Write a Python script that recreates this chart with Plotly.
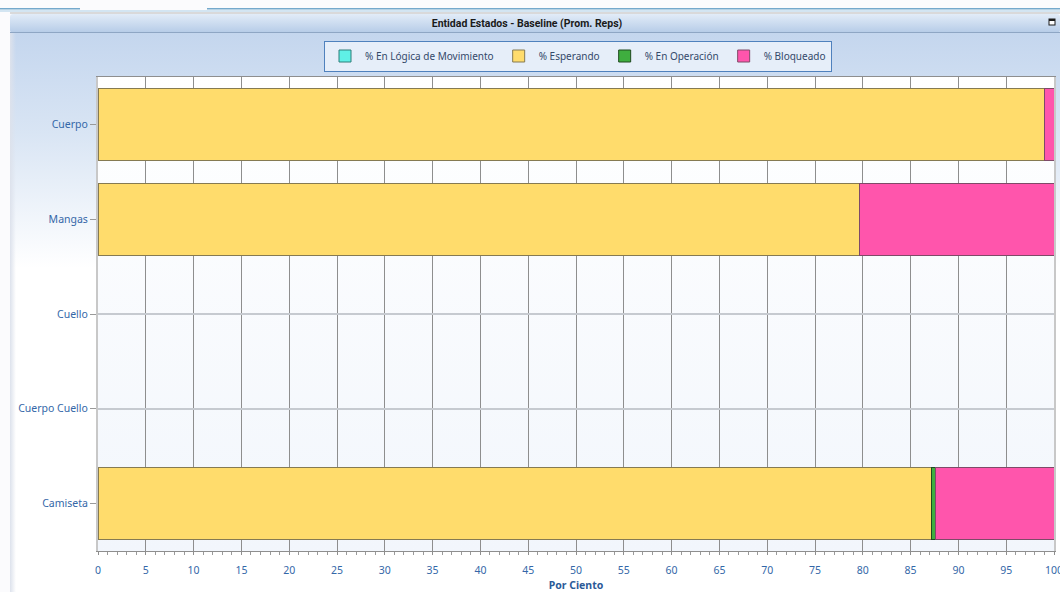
import base64
import plotly.graph_objects as go

# Estados por entidad (porcentaje del tiempo, promedio de réplicas); None = sin tiempo registrado
categorias = ["Cuerpo", "Mangas", "Cuello", "Cuerpo Cuello", "Camiseta"]
logica_movimiento = [None, None, None, None, None]
esperando = [99.05, 79.65, None, None, 87.15]
en_operacion = [None, None, None, None, 0.45]
bloqueado = [0.95, 20.35, None, None, 12.4]

xticks = list(range(0, 101, 5))

W, H = 1060, 592
L, R, T, B = 98, 6, 77, 41
PW, PH = W - L - R, H - T - B

# Fondo del panel (cabecera, degradados y área de trazado) como SVG
fondo = f'''<svg xmlns="http://www.w3.org/2000/svg" width="{W}" height="{H}" viewBox="0 0 {W} {H}" preserveAspectRatio="none">
<defs>
<linearGradient id="panel" x1="0" y1="0" x2="0" y2="1">
<stop offset="0" stop-color="#c4d6ee"/><stop offset="0.18" stop-color="#d9e5f4"/>
<stop offset="0.42" stop-color="#ffffff"/><stop offset="1" stop-color="#ffffff"/>
</linearGradient>
<linearGradient id="cab" x1="0" y1="0" x2="0" y2="1">
<stop offset="0" stop-color="#e2ecf8"/><stop offset="1" stop-color="#b5cbe7"/>
</linearGradient>
<linearGradient id="area" x1="0" y1="0" x2="0" y2="1">
<stop offset="0" stop-color="#ffffff"/><stop offset="1" stop-color="#f2f6fc"/>
</linearGradient>
<linearGradient id="borde" x1="0" y1="0" x2="1" y2="0">
<stop offset="0" stop-color="#dde2ec"/><stop offset="1" stop-color="#dde2ec" stop-opacity="0"/>
</linearGradient>
</defs>
<rect width="{W}" height="{H}" fill="#fbfbfd"/>
<rect x="0" y="8" width="80" height="1.5" fill="#74a9cc"/>
<rect x="207" y="8" width="{W-207}" height="1.5" fill="#74a9cc"/>
<rect x="0" y="10" width="{W}" height="2" fill="#d3e5f2"/>
<rect x="10" y="12.5" width="{W-10}" height="1" fill="#b8b8b8"/>
<rect x="10" y="33" width="{W-10}" height="{H-33}" fill="url(#panel)"/>
<rect x="10" y="33" width="6" height="{H-33}" fill="url(#borde)"/>
<rect x="10" y="14" width="{W-10}" height="19" rx="3" fill="url(#cab)"/>
<rect x="10" y="32" width="{W-10}" height="1" fill="#8ea6c4"/>
<rect x="1049" y="19" width="6" height="6" fill="#ffffff" stroke="#1c1c1c" stroke-width="1"/>
<rect x="1049" y="19" width="6" height="2" fill="#1c1c1c"/>
<rect x="{L}" y="{T}" width="{PW}" height="{PH}" fill="url(#area)"/>
</svg>'''
fondo_uri = "data:image/svg+xml;base64," + base64.b64encode(fondo.encode()).decode()

series = [
    ("% En Lógica de Movimiento", logica_movimiento, "#5ff0e6", "#2f7f7a"),
    ("% Esperando", esperando, "#ffdc6c", "#857a52"),
    ("% En Operación", en_operacion, "#3fae3f", "#1f4a1f"),
    ("% Bloqueado", bloqueado, "#ff55ac", "#7e4a68"),
]

fig = go.Figure()
for nombre, valores, color, borde in series:
    fig.add_trace(go.Bar(
        name=nombre, y=categorias, x=valores, orientation="h",
        marker=dict(color=color, line=dict(color=borde, width=1)),
    ))

azul = "#3467a8"
fig.update_layout(
    width=W, height=H,
    barmode="stack", bargap=0.24,
    margin=dict(l=L, r=R, t=T, b=B, autoexpand=False),
    paper_bgcolor="#ffffff", plot_bgcolor="rgba(0,0,0,0)",
    font=dict(family="Noto Sans, Open Sans, sans-serif", size=10.5, color=azul),
    title=dict(
        text="<b>Entidad Estados - Baseline (Prom. Reps)</b>",
        x=527 / W, xanchor="center", xref="container",
        y=1 - 23 / H, yanchor="middle", yref="container",
        font=dict(family="Roboto, sans-serif", size=10.5, color="#1a1a1a"),
    ),
    legend=dict(
        orientation="h", x=(578 - L) / PW, xanchor="center",
        y=(H - B - 56) / PH, yanchor="middle",
        bgcolor="#e6eef9", bordercolor="#4f81bd", borderwidth=1,
        font=dict(size=10, color="#34496a"), traceorder="normal",
        itemwidth=30,
    ),
    images=[dict(
        source=fondo_uri, xref="paper", yref="paper",
        x=-L / PW, y=(H - B) / PH, sizex=W / PW, sizey=H / PH,
        xanchor="left", yanchor="top", sizing="stretch", layer="below",
    )],
    showlegend=True,
)

fig.update_xaxes(
    range=[0, 100], tickvals=xticks, ticktext=[str(v) for v in xticks],
    showgrid=True, gridcolor="#8e8e8e", gridwidth=1,
    showline=True, linecolor="#8e8e8e", linewidth=1, mirror=True,
    ticks="outside", ticklen=3, tickcolor="#8e8e8e", ticklabelstandoff=6,
    ticklabeloverflow="allow",
    minor=dict(dtick=1, ticks="outside", ticklen=3, tickcolor="#9a9a9a", showgrid=False),
    zeroline=False, fixedrange=True,
    title=dict(text="<b>Por Ciento</b>", standoff=10, font=dict(size=10.5, color="#2c5a98")),
    automargin=False,
)
fig.update_yaxes(
    autorange="reversed",
    showgrid=True, gridcolor="#c6cad0", gridwidth=1.5,
    showline=True, linecolor="#c8c8c8", linewidth=2, mirror=True,
    ticks="outside", ticklen=6, tickcolor="#9a9a9a",
    zeroline=False, fixedrange=True, automargin=False,
)

fig.write_html("out.html")
